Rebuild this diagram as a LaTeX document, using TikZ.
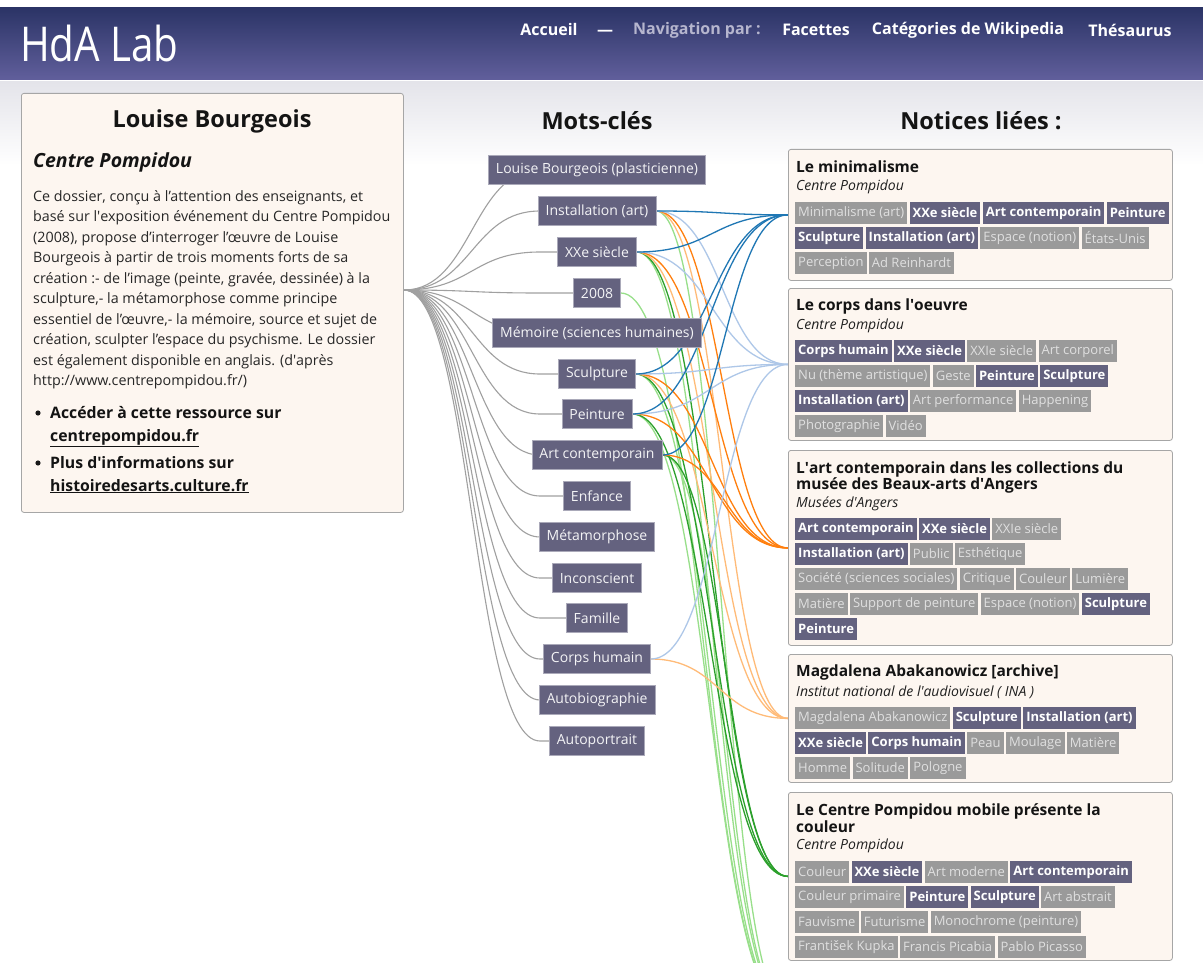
\documentclass[tikz,border=0pt]{standalone}
\usepackage{fontspec}
\setmainfont{Open Sans}
\usetikzlibrary{calc}
\pgfdeclarelayer{bgl}
\pgfdeclarelayer{lnk}
\pgfsetlayers{bgl,lnk,main}
\definecolor{kwcol}{HTML}{64627F}
\definecolor{taggray}{HTML}{9A9A9A}
\definecolor{cream}{HTML}{FDF6F0}
\definecolor{hdtop}{HTML}{2B3466}
\definecolor{hdbot}{HTML}{615F9C}
\definecolor{bgtop}{HTML}{E4E4EA}
\definecolor{cblue}{HTML}{1F77B4}
\definecolor{clblue}{HTML}{AEC7E8}
\definecolor{corange}{HTML}{FF7F0E}
\definecolor{clorange}{HTML}{FFBB78}
\definecolor{cgreen}{HTML}{2CA02C}
\definecolor{clgreen}{HTML}{98DF8A}
\definecolor{linkgray}{HTML}{A0A0A0}
\definecolor{navgray}{HTML}{B6B6CE}
\newcommand{\fs}[2]{\fontsize{#1}{#2}\selectfont}
\newcommand{\sq}{\textquotesingle}
\newcommand{\glk}[1]{\draw[glink] let \p1=(#1.center) in (fan) .. controls (472,290) and (472pt,\y1) .. (540pt,\y1) -- (\p1);}
\newcommand{\clk}[3]{\draw[clink,draw=#3] let \p1=(#1.east), \p2=(#2) in (\p1) .. controls ({(\x1+\x2)/2},\y1) and ({(\x1+\x2)/2},\y2) .. (\p2);}
\newcommand{\tagrow}[3]{%
  \node[inner sep=0pt, outer sep=0pt, minimum size=0pt] (#1-0) at (793,#2) {};
  \foreach \st/\tx [count=\i, remember=\i as \j (initially 0)] in {#3}{%
    \node[\st, anchor=west] (#1-\i) at ([xshift=2pt]#1-\j.east) {\tx};
  }%
}
\tikzset{
  kwbox/.style={fill=kwcol, draw=kwcol!55!white, line width=0.6pt, text=white!93!kwcol,
    font=\fs{14}{16}, minimum height=29pt, inner xsep=7.5pt, inner ysep=0pt},
  tagD/.style={fill=kwcol, text=white, font=\bfseries\fs{13}{15}, minimum height=22pt, inner xsep=3pt, inner ysep=0pt},
  tagL/.style={fill=taggray, text=white!88!black, font=\fs{13}{15}, minimum height=22pt, inner xsep=3pt, inner ysep=0pt},
  panel/.style={fill=cream, draw=black!35, rounded corners=2.5pt, line width=0.8pt, anchor=north west},
  glink/.style={draw=linkgray, line width=1.1pt},
  clink/.style={line width=1.3pt},
  ptitle/.style={anchor=west, inner sep=0pt, font=\bfseries\fs{15.5}{17}, text=black!92},
  psub/.style={anchor=west, inner sep=0pt, font=\itshape\fs{14}{16}, text=black!88},
  nav/.style={font=\bfseries\fs{16}{18}, text=white, inner sep=0pt},
  colhead/.style={font=\bfseries\fs{23.5}{26}, text=black!92},
  bul/.style={anchor=base west, inner sep=0pt, font=\bfseries\fs{15.8}{18}, text=black!92}
}
\begin{document}
\begin{tikzpicture}[x=1pt,y=-1pt]
\useasboundingbox (0,0) rectangle (1203,963);
% ---------- background ----------
\begin{pgfonlayer}{bgl}
\fill[white] (0,0) rectangle (1203,963);
\shade[top color=hdtop, bottom color=hdbot] (0,8) rectangle (1203,80);
\shade[top color=bgtop, bottom color=white] (0,82) rectangle (1203,165);
\end{pgfonlayer}
% ---------- header ----------
\node[anchor=west, text=white, font=\fs{48}{52}, inner sep=0pt] (hda) at (20,44) {\scalebox{0.84}[1]{HdA Lab}};
\node[nav] (acc) at (549,30) {Accueil};
\node[nav] (dash) at (605,33) {—};
\node[nav, text=navgray] (navpar) at (697,30) {Navigation par :};
\node[nav] (fac) at (816,30) {Facettes};
\node[nav] (cat) at (968,30) {Catégories de Wikipedia};
\node[nav] (thes) at (1130,30) {Thésaurus};
% ---------- left panel ----------
\node[panel, minimum width=382pt, minimum height=419pt] (LP) at (21,93) {};
\coordinate (fan) at (404,290);
\node[colhead] (lbt) at (212,121) {Louise Bourgeois};
\node[anchor=west, inner sep=0pt, font=\bfseries\itshape\fs{19.5}{22}, text=black!92] (lbs) at (33,162) {Centre Pompidou};
\node[anchor=north west, inner sep=0pt, align=left, font=\fs{14.3}{20.5}, text=black!85] (body) at (33,190) {%
Ce dossier, conçu à l’attention des enseignants, et\\
basé sur l\sq exposition événement du Centre Pompidou\\
(2008), propose d’interroger l’œuvre de Louise\\
Bourgeois à partir de trois moments forts de sa\\
création :- de l’image (peinte, gravée, dessinée) à la\\
sculpture,- la métamorphose comme principe\\
essentiel de l’œuvre,- la mémoire, source et sujet de\\
création, sculpter l’espace du psychisme. Le dossier\\
est également disponible en anglais. (d\sq après\\
http://www.centrepompidou.fr/)};
\fill[black!90] (38,413) circle (2.6pt);
\fill[black!90] (38,463) circle (2.6pt);
\node[bul] (b1) at (50,418.5) {Accéder à cette ressource sur};
\node[bul] (b1u) at (50,441) {\underline{centrepompidou.fr}};
\node[bul] (b2) at (50,468.5) {Plus d\sq informations sur};
\node[bul] (b2u) at (50,491) {\underline{histoiredesarts.culture.fr}};
% ---------- keywords ----------
\node[colhead] (mc) at (597,121) {Mots-clés};
\node[kwbox] (k-lb) at (597,170) {Louise Bourgeois (plasticienne)};
\node[kwbox] (k-inst) at (597,211) {Installation (art)};
\node[kwbox] (k-xxe) at (597,252) {XXe siècle};
\node[kwbox] (k-2008) at (597,293) {2008};
\node[kwbox] (k-mem) at (597,333) {Mémoire (sciences humaines)};
\node[kwbox] (k-sculp) at (597,374) {Sculpture};
\node[kwbox] (k-peint) at (597,414) {Peinture};
\node[kwbox] (k-artc) at (597,455) {Art contemporain};
\node[kwbox] (k-enf) at (597,496) {Enfance};
\node[kwbox] (k-meta) at (597,537) {Métamorphose};
\node[kwbox] (k-incon) at (597,578) {Inconscient};
\node[kwbox] (k-fam) at (597,618) {Famille};
\node[kwbox] (k-corps) at (597,659) {Corps humain};
\node[kwbox] (k-autob) at (597,700) {Autobiographie};
\node[kwbox] (k-autop) at (597,741) {Autoportrait};
% ---------- notices ----------
\node[colhead] (nl) at (981,121) {Notices liées :};
\node[panel, minimum width=384pt, minimum height=131pt] (P1) at (788,149) {};
\node[panel, minimum width=384pt, minimum height=152pt] (P2) at (788,288) {};
\node[panel, minimum width=384pt, minimum height=195pt] (P3) at (788,450) {};
\node[panel, minimum width=384pt, minimum height=128pt] (P4) at (788,654) {};
\node[panel, minimum width=384pt, minimum height=168pt] (P5) at (788,792) {};
\coordinate (P6) at (788,1010);
% panel 1
\node[ptitle] (p1t) at (796,167) {Le minimalisme};
\node[psub] (p1s) at (796,187) {Centre Pompidou};
\tagrow{p1a}{213}{tagL/{Minimalisme (art)}, tagD/{XXe siècle}, tagD/{Art contemporain}, tagD/Peinture}
\tagrow{p1b}{238}{tagD/Sculpture, tagD/{Installation (art)}, tagL/{Espace (notion)}, tagL/{États-Unis}}
\tagrow{p1c}{263}{tagL/Perception, tagL/{Ad Reinhardt}}
% panel 2
\node[ptitle] (p2t) at (796,306) {Le corps dans l\sq oeuvre};
\node[psub] (p2s) at (796,326) {Centre Pompidou};
\tagrow{p2a}{351}{tagD/{Corps humain}, tagD/{XXe siècle}, tagL/{XXIe siècle}, tagL/{Art corporel}}
\tagrow{p2b}{376}{tagL/{Nu (thème artistique)}, tagL/Geste, tagD/Peinture, tagD/Sculpture}
\tagrow{p2c}{401}{tagD/{Installation (art)}, tagL/{Art performance}, tagL/Happening}
\tagrow{p2d}{426}{tagL/Photographie, tagL/Vidéo}
% panel 3
\node[ptitle] (p3t) at (796,469) {L\sq art contemporain dans les collections du};
\node[ptitle] (p3u) at (796,485) {musée des Beaux-arts d\sq Angers};
\node[psub] (p3s) at (796,504) {Musées d\sq Angers};
\tagrow{p3a}{529}{tagD/{Art contemporain}, tagD/{XXe siècle}, tagL/{XXIe siècle}}
\tagrow{p3b}{554}{tagD/{Installation (art)}, tagL/Public, tagL/Esthétique}
\tagrow{p3c}{579}{tagL/{Société (sciences sociales)}, tagL/Critique, tagL/Couleur, tagL/Lumière}
\tagrow{p3d}{604}{tagL/Matière, tagL/{Support de peinture}, tagL/{Espace (notion)}, tagD/Sculpture}
\tagrow{p3e}{629}{tagD/Peinture}
% panel 4
\node[ptitle] (p4t) at (796,672) {Magdalena Abakanowicz [archive]};
\node[psub] (p4s) at (796,692) {Institut national de l\sq audiovisuel ( INA )};
\tagrow{p4a}{718}{tagL/{Magdalena Abakanowicz}, tagD/Sculpture, tagD/{Installation (art)}}
\tagrow{p4b}{743}{tagD/{XXe siècle}, tagD/{Corps humain}, tagL/Peau, tagL/Moulage, tagL/Matière}
\tagrow{p4c}{768}{tagL/Homme, tagL/Solitude, tagL/Pologne}
% panel 5
\node[ptitle] (p5t) at (796,811) {Le Centre Pompidou mobile présente la};
\node[ptitle] (p5u) at (796,827) {couleur};
\node[psub] (p5s) at (796,846) {Centre Pompidou};
\tagrow{p5a}{872}{tagL/Couleur, tagD/{XXe siècle}, tagL/{Art moderne}, tagD/{Art contemporain}}
\tagrow{p5b}{897}{tagL/{Couleur primaire}, tagD/Peinture, tagD/Sculpture, tagL/{Art abstrait}}
\tagrow{p5c}{922}{tagL/Fauvisme, tagL/Futurisme, tagL/{Monochrome (peinture)}}
\tagrow{p5d}{947}{tagL/{František Kupka}, tagL/{Francis Picabia}, tagL/{Pablo Picasso}}
% ---------- links ----------
\begin{pgfonlayer}{lnk}
\begin{scope}
\clip (0,0) rectangle (1203,963);
\foreach \k in {k-lb,k-inst,k-xxe,k-2008,k-mem,k-sculp,k-peint,k-artc,k-enf,k-meta,k-incon,k-fam,k-corps,k-autob,k-autop}{\glk{\k}}
\foreach \k in {k-inst,k-xxe,k-2008,k-sculp,k-peint,k-artc}{\clk{\k}{P6}{clgreen}}
\foreach \k in {k-xxe,k-sculp,k-peint,k-artc}{\clk{\k}{P5.west}{cgreen}}
\foreach \k in {k-inst,k-xxe,k-sculp,k-corps}{\clk{\k}{P4.west}{clorange}}
\foreach \k in {k-inst,k-xxe,k-sculp,k-peint,k-artc}{\clk{\k}{P3.west}{corange}}
\foreach \k in {k-inst,k-xxe,k-sculp,k-peint,k-corps}{\clk{\k}{P2.west}{clblue}}
\foreach \k in {k-inst,k-xxe,k-sculp,k-peint,k-artc}{\clk{\k}{P1.west}{cblue}}
\end{scope}
\end{pgfonlayer}
\end{tikzpicture}
\end{document}
